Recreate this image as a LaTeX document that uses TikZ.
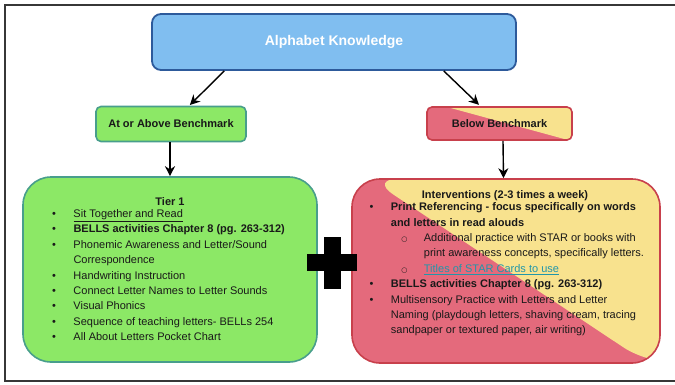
\documentclass[tikz,border=0pt]{standalone}
\usepackage{fontspec}
\setmainfont{Liberation Sans}
\newfontfamily\symfont{DejaVu Sans}
\usetikzlibrary{arrows.meta,calc}

\definecolor{kblue}{RGB}{128,190,240}
\definecolor{kblueline}{RGB}{45,90,155}
\definecolor{kgreen}{RGB}{140,232,102}
\definecolor{kgreenline}{RGB}{72,158,140}
\definecolor{kred}{RGB}{228,106,124}
\definecolor{kredline}{RGB}{200,64,76}
\definecolor{kyellow}{RGB}{248,226,142}
\definecolor{klink}{RGB}{32,150,170}
\definecolor{ktext}{RGB}{25,25,25}
\definecolor{kframe}{RGB}{55,55,55}

% list markers
\newcommand\bul{\leavevmode\llap{\textbullet\hspace{17.5pt}}}
\newcommand\subbul{\leavevmode\hspace*{33pt}\llap{{\symfont\fontsize{7}{7}\selectfont ○}\hspace{16.5pt}}}
\newcommand\subind{\leavevmode\hspace*{33pt}}

\begin{document}
\begin{tikzpicture}[x=1pt,y=-1pt,
  box/.style={rectangle, inner sep=0pt, text=ktext, font=\fontsize{11}{13}\selectfont\bfseries},
  smallbox/.style={box, line width=1.6pt, rounded corners=5pt},
  bigbox/.style={box, line width=1.6pt, rounded corners=28pt},
  splitfill/.style 2 args={path picture={
    \fill[kred] (path picture bounding box.south west) rectangle (path picture bounding box.north east);
    \fill[kyellow] ($(path picture bounding box.north west)+(#1,0)$) -- (path picture bounding box.north east)
      -- (path picture bounding box.south east) -- ($(path picture bounding box.south east)+(#2,0)$) -- cycle;}},
  txt/.style={inner sep=0pt, text=ktext, font=\fontsize{11}{15.4}\selectfont},
  arr/.style={-{Stealth[length=10pt,width=10pt]}, line width=1.4pt, black}]
\useasboundingbox (0,0) rectangle (675,384);

% page frame
\draw[line width=1.5pt, kframe] (680,5) -- (5,5) -- (5,381) -- (680,381);

% boxes
\node[box, fill=kblue, draw=kblueline, line width=1.8pt, rounded corners=9pt,
  minimum width=364pt, minimum height=56pt, text=white,
  font=\fontsize{14}{16}\selectfont\bfseries] (ak) at (334,42) {Alphabet Knowledge};
\node[smallbox, fill=kgreen, draw=kgreenline, minimum width=150pt, minimum height=35pt]
  (ab) at (171,124) {At or Above Benchmark};
\node[smallbox, draw=kredline, splitfill={20}{-4}, minimum width=145pt, minimum height=33pt]
  (bb) at (499.5,123.5) {Below Benchmark};
\node[bigbox, fill=kgreen, draw=kgreenline, minimum width=294pt, minimum height=185pt]
  (t1) at (170,269.5) {};
\node[bigbox, draw=kredline, splitfill={18}{-13}, minimum width=308pt, minimum height=184pt]
  (iv) at (506,271) {};

% plus sign
\fill[black] (307,254) rectangle (357,271);
\fill[black] (324,237) rectangle (341,289);

% connectors
\draw[arr, shorten >=1pt] ($(ak.south west)!0.2!(ak.south east)$) -- ($(ab.north west)!0.62!(ab.north east)$);
\draw[arr, shorten >=2pt] ($(ak.south west)!0.8!(ak.south east)$) -- ($(bb.north west)!0.37!(bb.north east)$);
\draw[arr] (ab.south -| t1.north) -- (t1.north);
\draw[arr] ($(bb.south)+(3.5,0)$) -- ($(iv.north)+(-2.5,0)$);

% Tier 1 contents
\node[txt, anchor=base, font=\fontsize{11}{13}\selectfont\bfseries] (t1title) at (170,205.5) {Tier 1};
\node[txt, anchor=base west] (t1list) at (73.3,217.5) {\parbox[t]{235pt}{\raggedright
  \bul\underline{Sit Together and Read}\\
  \bul\textbf{BELLS activities Chapter 8 (pg. 263-312)}\\
  \bul Phonemic Awareness and Letter/Sound\\
  Correspondence\\
  \bul Handwriting Instruction\\
  \bul Connect Letter Names to Letter Sounds\\
  \bul Visual Phonics\\
  \bul Sequence of teaching letters- BELLs 254\\
  \bul All About Letters Pocket Chart}};

% Interventions contents
\node[txt, anchor=base, font=\fontsize{11}{13}\selectfont\bfseries] (ivtitle) at (505,198) {Interventions (2-3 times a week)};
\node[txt, anchor=base west] (ivlist) at (390.7,210.7) {\parbox[t]{265pt}{\raggedright
  \bul\textbf{Print Referencing - focus specifically on words}\\
  \textbf{and letters in read alouds}\\
  \subbul Additional practice with STAR or books with\\
  \subind print awareness concepts, specifically letters.\\
  \subbul{\color{klink}\underline{Titles of STAR Cards to use}}\\
  \bul\textbf{BELLS activities Chapter 8 (pg. 263-312)}\\
  \bul Multisensory Practice with Letters and Letter\\
  Naming (playdough letters, shaving cream, tracing\\
  sandpaper or textured paper, air writing)}};
\end{tikzpicture}
\end{document}
